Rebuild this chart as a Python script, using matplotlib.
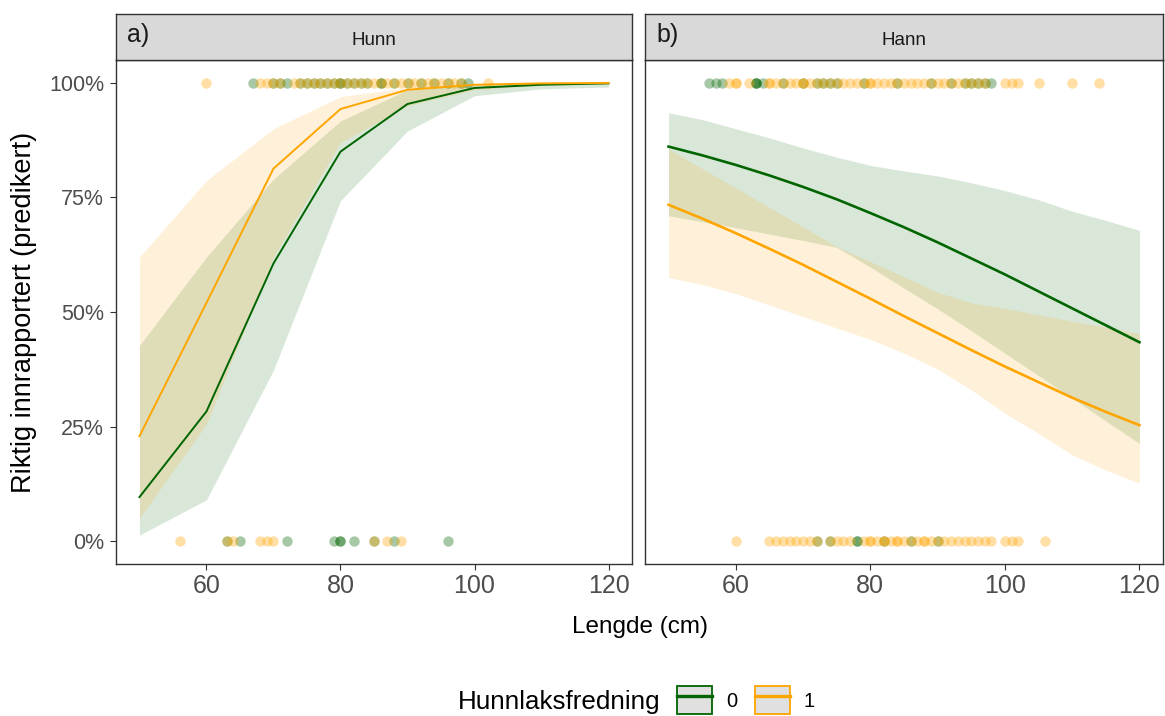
import matplotlib

matplotlib.use("Agg")
import matplotlib.pyplot as plt
from matplotlib.lines import Line2D
from matplotlib.patches import Patch
import numpy as np

plt.rcParams["font.family"] = ["Liberation Sans", "DejaVu Sans"]

GREEN = "#006400"
ORANGE = "#FFA500"
STRIP = "#D9D9D9"
TICK_GREY = "#4D4D4D"

# --- panel a) Hunn: predictions at 10 cm steps ---
hunn_x = [50, 60, 70, 80, 90, 100, 110, 120]
hunn_fit_0 = [0.096, 0.283, 0.606, 0.850, 0.954, 0.989, 0.996, 0.999]
hunn_lo_0 = [0.013, 0.090, 0.373, 0.743, 0.895, 0.972, 0.987, 0.991]
hunn_hi_0 = [0.427, 0.620, 0.790, 0.917, 0.985, 0.996, 0.999, 1.000]
hunn_fit_1 = [0.229, 0.520, 0.813, 0.943, 0.985, 0.996, 0.999, 1.000]
hunn_lo_1 = [0.050, 0.255, 0.620, 0.870, 0.950, 0.985, 0.995, 0.998]
hunn_hi_1 = [0.620, 0.787, 0.900, 0.970, 0.990, 0.997, 0.999, 1.000]

# --- panel b) Hann: predictions at 5 cm steps ---
hann_x = [50, 55, 60, 65, 70, 75, 80, 85, 90, 95, 100, 105, 110, 115, 120]
hann_fit_0 = [0.861, 0.842, 0.821, 0.798, 0.773, 0.746, 0.716, 0.685,
              0.652, 0.617, 0.582, 0.545, 0.508, 0.471, 0.434]
hann_lo_0 = [0.710, 0.697, 0.684, 0.670, 0.656, 0.641, 0.598, 0.552,
             0.507, 0.459, 0.410, 0.361, 0.312, 0.262, 0.213]
hann_hi_0 = [0.935, 0.920, 0.900, 0.880, 0.858, 0.838, 0.820, 0.808,
             0.797, 0.782, 0.765, 0.745, 0.720, 0.700, 0.678]
hann_fit_1 = [0.734, 0.704, 0.672, 0.638, 0.603, 0.566, 0.529, 0.491,
              0.454, 0.417, 0.381, 0.347, 0.313, 0.282, 0.253]
hann_lo_1 = [0.575, 0.560, 0.540, 0.515, 0.490, 0.465, 0.440, 0.410,
             0.375, 0.330, 0.279, 0.235, 0.188, 0.155, 0.126]
hann_hi_1 = [0.856, 0.813, 0.771, 0.728, 0.686, 0.643, 0.610, 0.577,
             0.543, 0.520, 0.508, 0.494, 0.480, 0.467, 0.453]

# --- observed fish (length in cm), reported correctly (1) or not (0) ---
hunn_obs1_0 = [67, 70, 71, 72, 74, 75, 76, 77, 78, 79, 80, 80, 81, 82, 83,
               84, 86, 86, 88, 90, 92, 94, 96, 98, 99]
hunn_obs1_1 = [60, 68, 69, 70, 71, 73, 74, 75, 76, 77, 78, 79, 80, 81, 82,
               83, 84, 85, 86, 87, 88, 89, 90, 91, 92, 93, 94, 95, 96, 97,
               98, 102]
hunn_obs0_0 = [63, 65, 72, 79, 80, 80, 82, 85, 88, 96]
hunn_obs0_1 = [56, 63, 64, 68, 69, 70, 85, 87, 89]

hann_obs1_0 = [56, 57, 58, 63, 63, 63, 64, 67, 70, 72, 73, 74, 75, 79, 84,
               89, 92, 94, 95, 96, 97, 98]
hann_obs1_1 = [59, 60, 60, 62, 65, 65, 66, 67, 68, 69, 70, 70, 71, 72, 73,
               74, 75, 76, 77, 78, 79, 80, 80, 81, 82, 83, 84, 85, 86, 87,
               88, 89, 90, 91, 92, 93, 94, 95, 96, 97, 100, 101, 102, 105,
               110, 114]
hann_obs0_0 = [72, 74, 78, 78, 82, 86, 90]
hann_obs0_1 = [60, 65, 66, 67, 68, 69, 70, 71, 72, 74, 75, 76, 77, 79, 80,
               80, 81, 82, 82, 83, 84, 84, 85, 86, 87, 88, 88, 89, 90, 91,
               92, 93, 94, 95, 96, 97, 98, 100, 101, 102, 106]

panels = [
    dict(title="Hunn", tag="a)", x=hunn_x,
         fits=[(hunn_fit_0, hunn_lo_0, hunn_hi_0), (hunn_fit_1, hunn_lo_1, hunn_hi_1)],
         obs=[(hunn_obs1_0, hunn_obs0_0), (hunn_obs1_1, hunn_obs0_1)], lw=1.4),
    dict(title="Hann", tag="b)", x=hann_x,
         fits=[(hann_fit_0, hann_lo_0, hann_hi_0), (hann_fit_1, hann_lo_1, hann_hi_1)],
         obs=[(hann_obs1_0, hann_obs0_0), (hann_obs1_1, hann_obs0_1)], lw=1.9),
]
colors = [GREEN, ORANGE]

W, H = 1165, 716
fig = plt.figure(figsize=(W / 100, H / 100), dpi=100)
lefts = [116, 645]
widths = [516, 518]
top, bottom, strip_h = 60, 564, 46

for i, p in enumerate(panels):
    ax = fig.add_axes([lefts[i] / W, (H - bottom) / H, widths[i] / W, (bottom - top) / H])
    for c, (fit, lo, hi) in zip(colors, p["fits"]):
        ax.fill_between(p["x"], lo, hi, color=c, alpha=0.15, linewidth=0)
    for c, (ones, zeros) in zip(colors, p["obs"]):
        ax.scatter(ones, np.ones(len(ones)), s=56, color=c, alpha=0.35, linewidths=0)
        ax.scatter(zeros, np.zeros(len(zeros)), s=56, color=c, alpha=0.35, linewidths=0)
    for c, (fit, lo, hi) in zip(colors, p["fits"]):
        ax.plot(p["x"], fit, color=c, lw=p["lw"])

    ax.set_xlim(46.5, 123.5)
    ax.set_ylim(-0.05, 1.05)
    ax.set_xticks([60, 80, 100, 120])
    ax.set_yticks([0, 0.25, 0.5, 0.75, 1.0])
    ax.tick_params(axis="x", labelsize=18, colors="#333333", labelcolor=TICK_GREY,
                   length=4, width=0.8, pad=3)
    ax.tick_params(axis="y", labelsize=15.5, colors="#333333", labelcolor=TICK_GREY,
                   length=4, width=0.8, pad=4.5)
    if i == 0:
        ax.set_yticklabels(["0%", "25%", "50%", "75%", "100%"])
        ax.set_ylabel("Riktig innrapportert (predikert)", fontsize=19.5)
        ax.yaxis.set_label_coords((37 - 116) / 516, 0.5)
    else:
        ax.tick_params(axis="y", labelleft=False, length=0)
    for sp in ax.spines.values():
        sp.set_color("#333333")
        sp.set_linewidth(1.0)

    sax = fig.add_axes([lefts[i] / W, (H - top) / H, widths[i] / W, strip_h / H])
    sax.set_facecolor(STRIP)
    sax.set_xticks([])
    sax.set_yticks([])
    for sp in sax.spines.values():
        sp.set_color("#333333")
        sp.set_linewidth(1.0)
    sax.text(0.5, 0.42, p["title"], ha="center", va="center", fontsize=13.5,
             color="#1A1A1A", transform=sax.transAxes)
    sax.text(0.022, 0.55, p["tag"], ha="left", va="center", fontsize=18,
             color="#1A1A1A", transform=sax.transAxes)

fig.text((116 + 1163) / 2 / W, (H - 627) / H, "Lengde (cm)", ha="center", va="center",
         fontsize=17.5)

fig.text(458 / W, (H - 702) / H, "Hunnlaksfredning", ha="left", va="center", fontsize=18.7)
handles = [
    (Patch(facecolor="#E0E0E0", edgecolor=c, linewidth=1.3), Line2D([], [], color=c, lw=2.4))
    for c in colors
]
fig.legend(handles, ["0", "1"], loc="center left", bbox_to_anchor=(677 / W, (H - 700) / H),
           ncol=2, frameon=False, fontsize=14.5, handlelength=1.75, handleheight=1.75,
           columnspacing=0.85, handletextpad=0.7, borderaxespad=0, borderpad=0)

fig.savefig("out.png", dpi=100)
